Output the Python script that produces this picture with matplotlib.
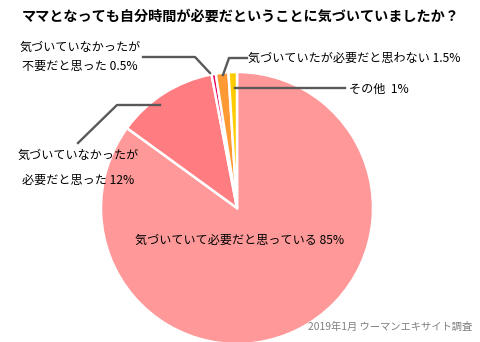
import matplotlib
matplotlib.use("Agg")
import matplotlib.pyplot as plt

plt.rcParams['font.family'] = ['Noto Sans CJK JP', 'DejaVu Sans']

title = "ママとなっても自分時間が必要だということに気づいていましたか？"
categories = ["気づいていて必要だと思っている", "気づいていなかったが\n必要だと思った",
              "気づいていなかったが\n不要だと思った", "気づいていたが必要だと思わない", "その他"]
values = [85, 12, 0.5, 1.5, 1]
value_labels = ["85%", "12%", "0.5%", "1.5%", "1%"]
colors = ["#FF9999", "#FF7C80", "#E8005C", "#FF9933", "#FFCC00"]
source = "2019年1月 ウーマンエキサイト調査"

W, H = 480, 342
fig = plt.figure(figsize=(W/100, H/100), dpi=100)
ax = fig.add_axes([0, 0, 1, 1])
ax.set_xlim(0, W)
ax.set_ylim(0, H)
ax.set_aspect('equal')
ax.axis('off')

def Y(y):
    return H - y

ax.pie(values, colors=colors, startangle=90, counterclock=False,
       center=(237, Y(208)), radius=136,
       wedgeprops=dict(edgecolor='white', linewidth=1.8))
ax.set_xlim(0, W)
ax.set_ylim(0, H)

fig.text(241/W, 1 - 17/H, title, ha='center', va='center', fontsize=10.2, fontweight='bold')

lc = '#595959'
lw = 1.7
fs = 8.7
# 85%
ax.text(240, Y(240), categories[0] + " " + value_labels[0], ha='center', va='center', fontsize=fs)
# 12%
ax.plot([160, 117, 78], [Y(105), Y(105), Y(143)], color=lc, lw=lw)
l1, l2 = categories[1].split("\n")
ax.text(78, Y(155), l1, ha='center', va='center', fontsize=fs)
ax.text(78, Y(180), l2 + " " + value_labels[1], ha='center', va='center', fontsize=fs)
# 0.5%
ax.plot([210, 195, 143], [Y(73), Y(57), Y(57)], color=lc, lw=lw)
l1, l2 = categories[2].split("\n")
ax.text(80, Y(47), l1, ha='center', va='center', fontsize=fs)
ax.text(80, Y(66), l2 + " " + value_labels[2], ha='center', va='center', fontsize=fs)
# 1.5%
ax.plot([223, 229, 247], [Y(75), Y(58), Y(58)], color=lc, lw=lw)
ax.text(248, Y(58), categories[3] + " " + value_labels[3], ha='left', va='center', fontsize=fs)
# 1%
ax.plot([235, 345], [Y(88), Y(88)], color=lc, lw=lw)
ax.text(349, Y(89), categories[4] + "  " + value_labels[4], ha='left', va='center', fontsize=fs)

fig.text(472/W, 1 - 327/H, source, ha='right', va='center', fontsize=7.4, color='#7F7F7F')

fig.savefig("out.png", dpi=100)
